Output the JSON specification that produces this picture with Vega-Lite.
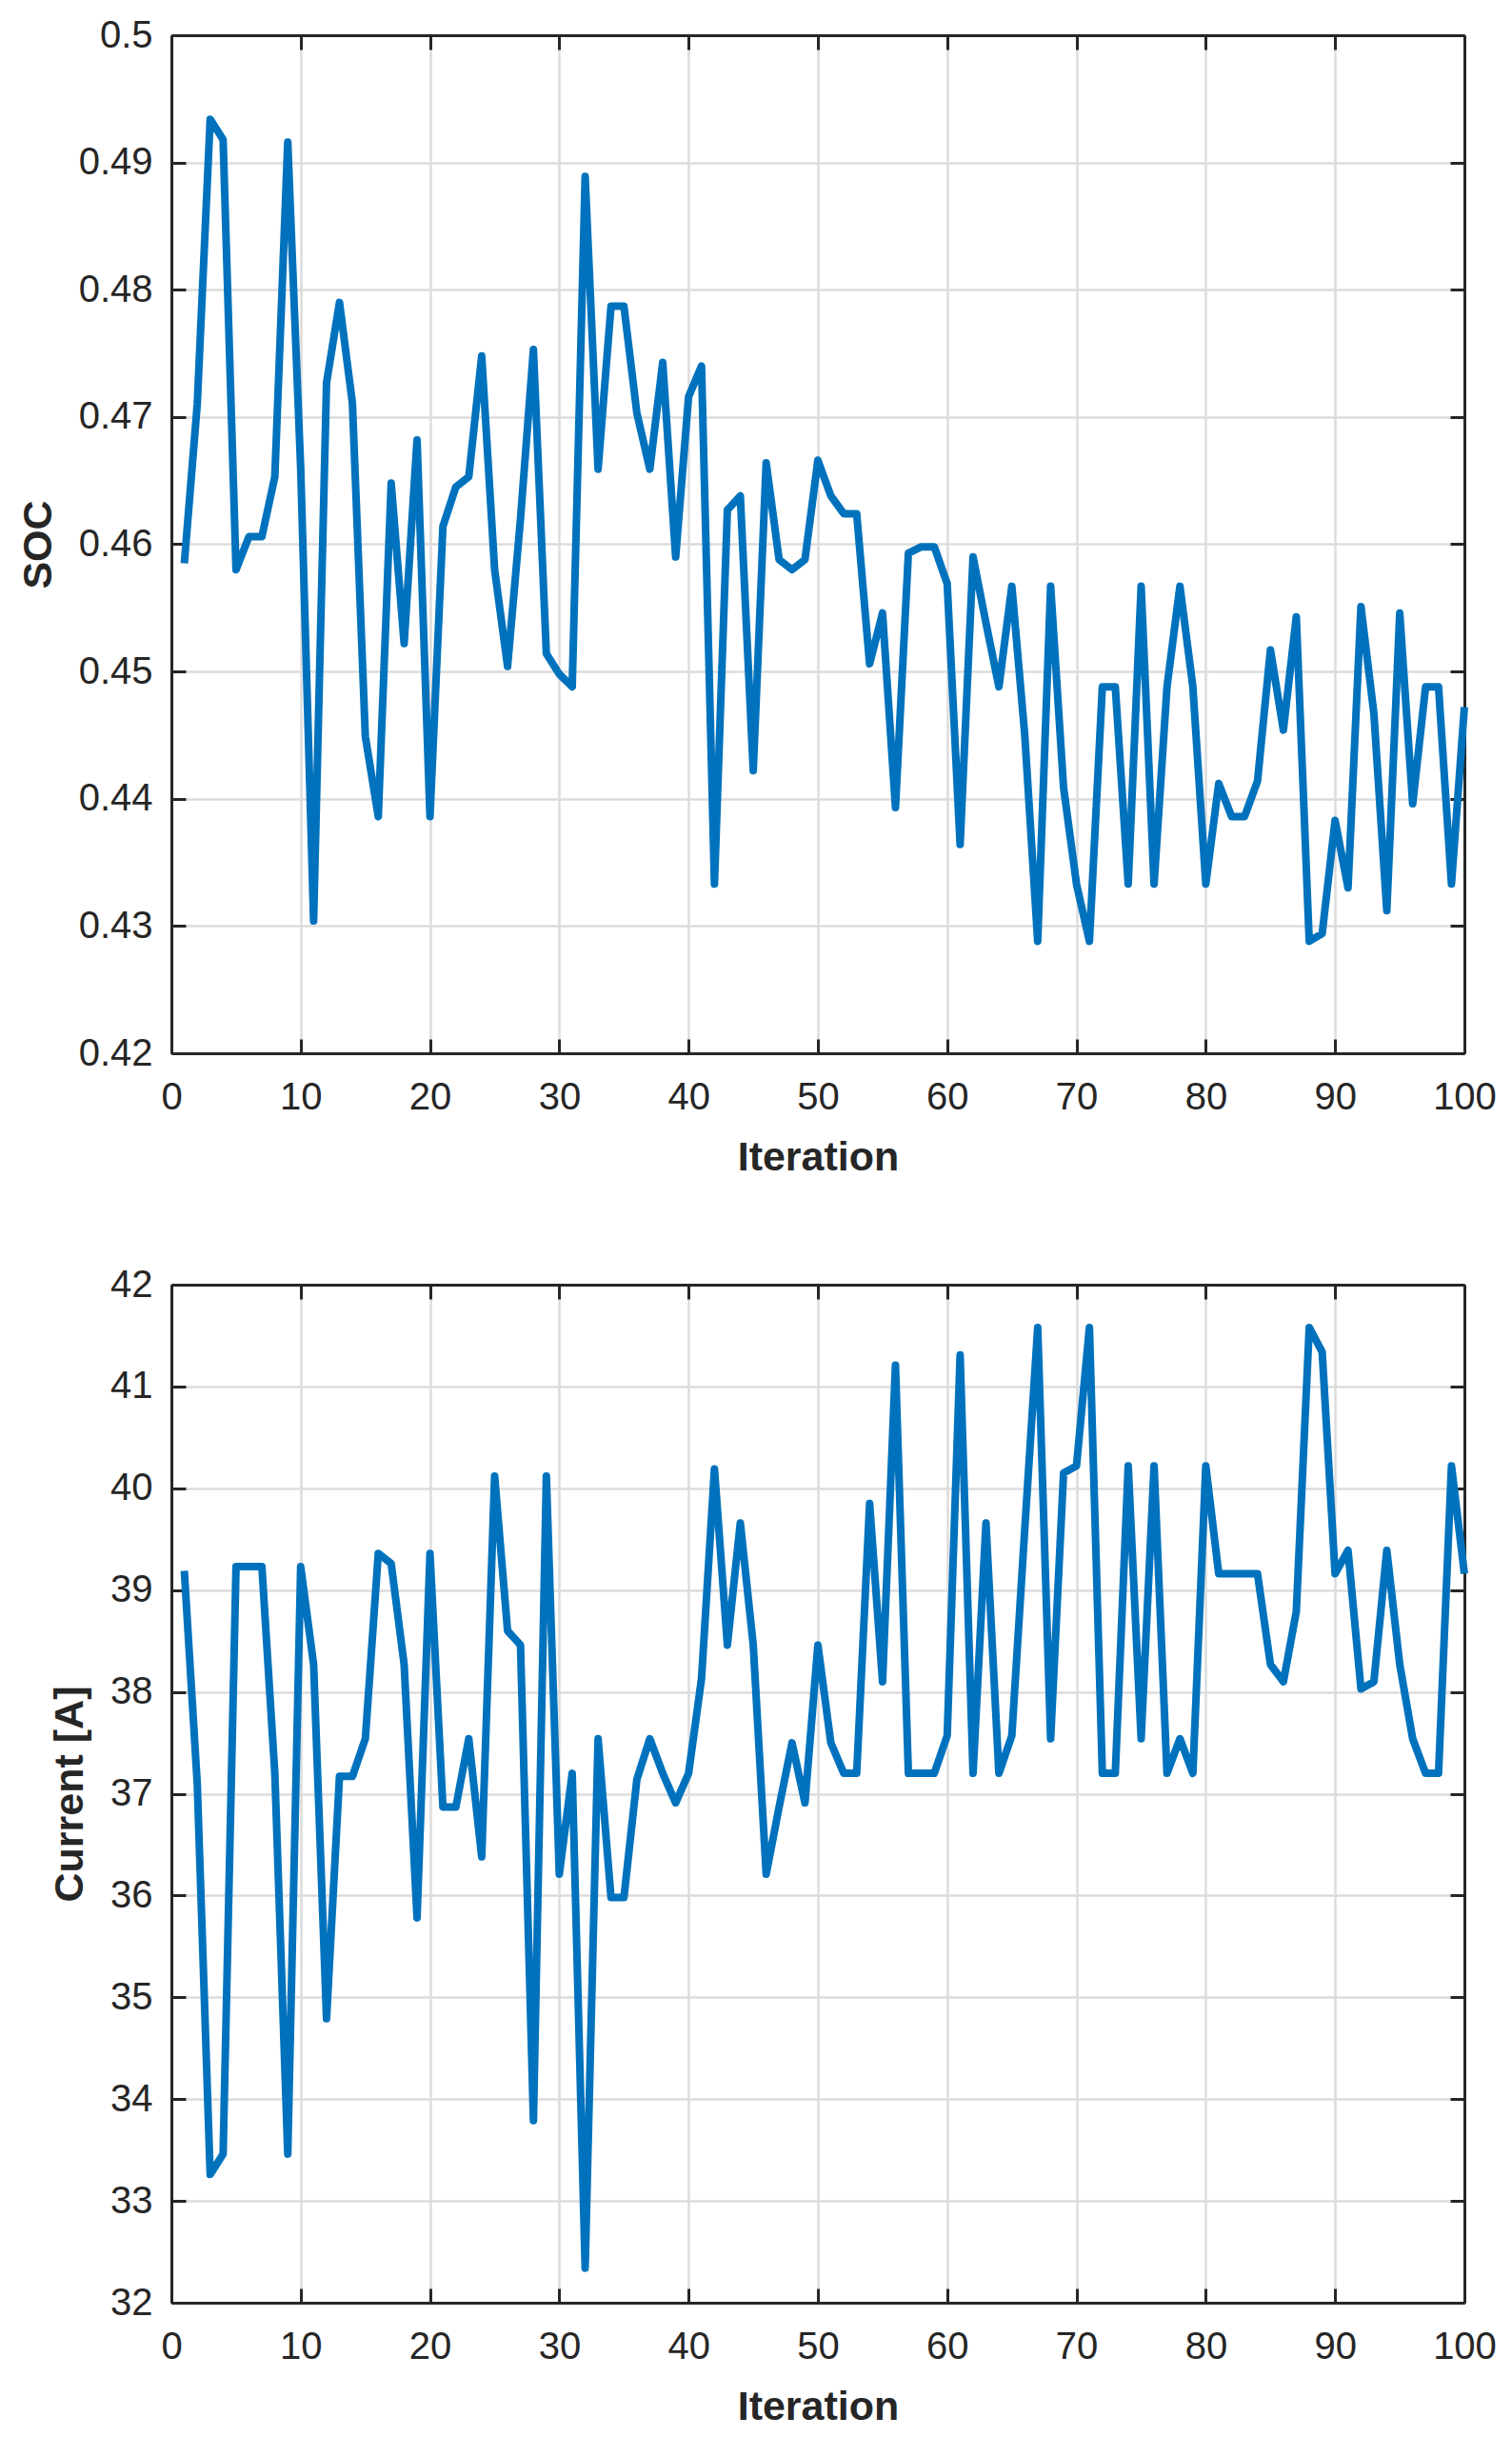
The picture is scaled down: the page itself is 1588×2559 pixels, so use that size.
{
  "$schema": "https://vega.github.io/schema/vega-lite/v6.json",
  "background": "white",
  "padding": {"left": 19, "top": 17, "right": 40, "bottom": 10},
  "spacing": 92,
  "config": {
    "view": {"stroke": null},
    "font": "Liberation Sans",
    "axis": {
      "labelFont": "Liberation Sans",
      "labelFontSize": 40,
      "labelColor": "#262626",
      "labelFlush": false,
      "titleFont": "Liberation Sans",
      "titleFontSize": 43,
      "titleFontWeight": "bold",
      "titleColor": "#262626",
      "domainColor": "#262626",
      "domainWidth": 3,
      "tickColor": "#262626",
      "tickWidth": 3,
      "tickSize": -15,
      "gridColor": "#dcdcdc",
      "gridWidth": 2.5
    },
    "axisX": {"labelPadding": 41, "titlePadding": 22},
    "axisY": {"labelPadding": 35, "titlePadding": 20}
  },
  "datasets": {
    "soc": [
      {"iter": 1, "soc": 0.4585}, {"iter": 2, "soc": 0.471}, {"iter": 3, "soc": 0.4934}, {"iter": 4, "soc": 0.4918},
      {"iter": 5, "soc": 0.458}, {"iter": 6, "soc": 0.4606}, {"iter": 7, "soc": 0.4606}, {"iter": 8, "soc": 0.4653},
      {"iter": 9, "soc": 0.4916}, {"iter": 10, "soc": 0.466}, {"iter": 11, "soc": 0.4304}, {"iter": 12, "soc": 0.4727},
      {"iter": 13, "soc": 0.479}, {"iter": 14, "soc": 0.4711}, {"iter": 15, "soc": 0.4449}, {"iter": 16, "soc": 0.4386},
      {"iter": 17, "soc": 0.4648}, {"iter": 18, "soc": 0.4522}, {"iter": 19, "soc": 0.4682}, {"iter": 20, "soc": 0.4386},
      {"iter": 21, "soc": 0.4614}, {"iter": 22, "soc": 0.4645}, {"iter": 23, "soc": 0.4653}, {"iter": 24, "soc": 0.4748},
      {"iter": 25, "soc": 0.458}, {"iter": 26, "soc": 0.4504}, {"iter": 27, "soc": 0.462}, {"iter": 28, "soc": 0.4753},
      {"iter": 29, "soc": 0.4514}, {"iter": 30, "soc": 0.4498}, {"iter": 31, "soc": 0.4488}, {"iter": 32, "soc": 0.4889},
      {"iter": 33, "soc": 0.4659}, {"iter": 34, "soc": 0.4787}, {"iter": 35, "soc": 0.4787}, {"iter": 36, "soc": 0.4703},
      {"iter": 37, "soc": 0.4659}, {"iter": 38, "soc": 0.4743}, {"iter": 39, "soc": 0.459}, {"iter": 40, "soc": 0.4716},
      {"iter": 41, "soc": 0.474}, {"iter": 42, "soc": 0.4333}, {"iter": 43, "soc": 0.4627}, {"iter": 44, "soc": 0.4638},
      {"iter": 45, "soc": 0.4422}, {"iter": 46, "soc": 0.4664}, {"iter": 47, "soc": 0.4588}, {"iter": 48, "soc": 0.458},
      {"iter": 49, "soc": 0.4588}, {"iter": 50, "soc": 0.4666}, {"iter": 51, "soc": 0.4638}, {"iter": 52, "soc": 0.4624},
      {"iter": 53, "soc": 0.4624}, {"iter": 54, "soc": 0.4506}, {"iter": 55, "soc": 0.4546}, {"iter": 56, "soc": 0.4393},
      {"iter": 57, "soc": 0.4593}, {"iter": 58, "soc": 0.4598}, {"iter": 59, "soc": 0.4598}, {"iter": 60, "soc": 0.4569},
      {"iter": 61, "soc": 0.4364}, {"iter": 62, "soc": 0.459}, {"iter": 63, "soc": 0.4538}, {"iter": 64, "soc": 0.4488},
      {"iter": 65, "soc": 0.4567}, {"iter": 66, "soc": 0.445}, {"iter": 67, "soc": 0.4288}, {"iter": 68, "soc": 0.4567},
      {"iter": 69, "soc": 0.4409}, {"iter": 70, "soc": 0.4333}, {"iter": 71, "soc": 0.4288}, {"iter": 72, "soc": 0.4488},
      {"iter": 73, "soc": 0.4488}, {"iter": 74, "soc": 0.4333}, {"iter": 75, "soc": 0.4567}, {"iter": 76, "soc": 0.4333},
      {"iter": 77, "soc": 0.4488}, {"iter": 78, "soc": 0.4567}, {"iter": 79, "soc": 0.4488}, {"iter": 80, "soc": 0.4333},
      {"iter": 81, "soc": 0.4412}, {"iter": 82, "soc": 0.4386}, {"iter": 83, "soc": 0.4386}, {"iter": 84, "soc": 0.4414},
      {"iter": 85, "soc": 0.4517}, {"iter": 86, "soc": 0.4454}, {"iter": 87, "soc": 0.4543}, {"iter": 88, "soc": 0.4288},
      {"iter": 89, "soc": 0.4294}, {"iter": 90, "soc": 0.4383}, {"iter": 91, "soc": 0.433}, {"iter": 92, "soc": 0.4551},
      {"iter": 93, "soc": 0.4467}, {"iter": 94, "soc": 0.4312}, {"iter": 95, "soc": 0.4546}, {"iter": 96, "soc": 0.4396},
      {"iter": 97, "soc": 0.4488}, {"iter": 98, "soc": 0.4488}, {"iter": 99, "soc": 0.4333}, {"iter": 100, "soc": 0.4472}
    ],
    "current": [
      {"iter": 1, "current": 39.19}, {"iter": 2, "current": 37.1}, {"iter": 3, "current": 33.26}, {"iter": 4, "current": 33.46},
      {"iter": 5, "current": 39.23}, {"iter": 6, "current": 39.23}, {"iter": 7, "current": 39.23}, {"iter": 8, "current": 37.2},
      {"iter": 9, "current": 33.46}, {"iter": 10, "current": 39.23}, {"iter": 11, "current": 38.27}, {"iter": 12, "current": 34.79},
      {"iter": 13, "current": 37.17}, {"iter": 14, "current": 37.17}, {"iter": 15, "current": 37.54}, {"iter": 16, "current": 39.36},
      {"iter": 17, "current": 39.26}, {"iter": 18, "current": 38.27}, {"iter": 19, "current": 35.78}, {"iter": 20, "current": 39.36},
      {"iter": 21, "current": 36.87}, {"iter": 22, "current": 36.87}, {"iter": 23, "current": 37.54}, {"iter": 24, "current": 36.38},
      {"iter": 25, "current": 40.12}, {"iter": 26, "current": 38.6}, {"iter": 27, "current": 38.46}, {"iter": 28, "current": 33.79},
      {"iter": 29, "current": 40.12}, {"iter": 30, "current": 36.21}, {"iter": 31, "current": 37.2}, {"iter": 32, "current": 32.34},
      {"iter": 33, "current": 37.54}, {"iter": 34, "current": 35.98}, {"iter": 35, "current": 35.98}, {"iter": 36, "current": 37.14},
      {"iter": 37, "current": 37.54}, {"iter": 38, "current": 37.2}, {"iter": 39, "current": 36.91}, {"iter": 40, "current": 37.2},
      {"iter": 41, "current": 38.13}, {"iter": 42, "current": 40.19}, {"iter": 43, "current": 38.46}, {"iter": 44, "current": 39.66},
      {"iter": 45, "current": 38.46}, {"iter": 46, "current": 36.21}, {"iter": 47, "current": 36.87}, {"iter": 48, "current": 37.5},
      {"iter": 49, "current": 36.91}, {"iter": 50, "current": 38.46}, {"iter": 51, "current": 37.5}, {"iter": 52, "current": 37.2},
      {"iter": 53, "current": 37.2}, {"iter": 54, "current": 39.85}, {"iter": 55, "current": 38.1}, {"iter": 56, "current": 41.21},
      {"iter": 57, "current": 37.2}, {"iter": 58, "current": 37.2}, {"iter": 59, "current": 37.2}, {"iter": 60, "current": 37.57},
      {"iter": 61, "current": 41.31}, {"iter": 62, "current": 37.2}, {"iter": 63, "current": 39.66}, {"iter": 64, "current": 37.2},
      {"iter": 65, "current": 37.57}, {"iter": 66, "current": 39.6}, {"iter": 67, "current": 41.58}, {"iter": 68, "current": 37.54},
      {"iter": 69, "current": 40.15}, {"iter": 70, "current": 40.22}, {"iter": 71, "current": 41.58}, {"iter": 72, "current": 37.2},
      {"iter": 73, "current": 37.2}, {"iter": 74, "current": 40.22}, {"iter": 75, "current": 37.54}, {"iter": 76, "current": 40.22},
      {"iter": 77, "current": 37.2}, {"iter": 78, "current": 37.54}, {"iter": 79, "current": 37.2}, {"iter": 80, "current": 40.22},
      {"iter": 81, "current": 39.16}, {"iter": 82, "current": 39.16}, {"iter": 83, "current": 39.16}, {"iter": 84, "current": 39.16},
      {"iter": 85, "current": 38.27}, {"iter": 86, "current": 38.1}, {"iter": 87, "current": 38.79}, {"iter": 88, "current": 41.58},
      {"iter": 89, "current": 41.34}, {"iter": 90, "current": 39.16}, {"iter": 91, "current": 39.39}, {"iter": 92, "current": 38.03},
      {"iter": 93, "current": 38.1}, {"iter": 94, "current": 39.39}, {"iter": 95, "current": 38.27}, {"iter": 96, "current": 37.54},
      {"iter": 97, "current": 37.2}, {"iter": 98, "current": 37.2}, {"iter": 99, "current": 40.22}, {"iter": 100, "current": 39.16}
    ]
  },
  "vconcat": [
    {
      "width": 1358,
      "height": 1069,
      "data": {"name": "soc"},
      "layer": [
        {
          "mark": {"type": "line", "color": "#0072BD", "strokeWidth": 8, "strokeJoin": "round"},
          "encoding": {
            "x": {
              "field": "iter", "type": "quantitative",
              "scale": {"domain": [0, 100], "nice": false},
              "axis": {"orient": "bottom", "values": [0, 10, 20, 30, 40, 50, 60, 70, 80, 90, 100], "format": "d", "title": "Iteration", "grid": true}
            },
            "y": {
              "field": "soc", "type": "quantitative",
              "scale": {"domain": [0.42, 0.5], "nice": false, "zero": false},
              "axis": {"orient": "left", "values": [0.42, 0.43, 0.44, 0.45, 0.46, 0.47, 0.48, 0.49, 0.5], "format": ".2~f", "title": "SOC", "grid": true}
            }
          }
        },
        {
          "mark": {"type": "line", "opacity": 0},
          "encoding": {
            "x": {
              "field": "iter", "type": "quantitative",
              "axis": {"orient": "top", "values": [0, 10, 20, 30, 40, 50, 60, 70, 80, 90, 100], "labels": false, "title": null, "grid": false}
            },
            "y": {
              "field": "soc", "type": "quantitative",
              "axis": {"orient": "right", "values": [0.42, 0.43, 0.44, 0.45, 0.46, 0.47, 0.48, 0.49, 0.5], "labels": false, "title": null, "grid": false}
            }
          }
        }
      ],
      "resolve": {"axis": {"x": "independent", "y": "independent"}}
    },
    {
      "width": 1358,
      "height": 1069,
      "data": {"name": "current"},
      "layer": [
        {
          "mark": {"type": "line", "color": "#0072BD", "strokeWidth": 8, "strokeJoin": "round"},
          "encoding": {
            "x": {
              "field": "iter", "type": "quantitative",
              "scale": {"domain": [0, 100], "nice": false},
              "axis": {"orient": "bottom", "values": [0, 10, 20, 30, 40, 50, 60, 70, 80, 90, 100], "format": "d", "title": "Iteration", "grid": true}
            },
            "y": {
              "field": "current", "type": "quantitative",
              "scale": {"domain": [32, 42], "nice": false, "zero": false},
              "axis": {"orient": "left", "values": [32, 33, 34, 35, 36, 37, 38, 39, 40, 41, 42], "format": "d", "title": "Current [A]", "grid": true}
            }
          }
        },
        {
          "mark": {"type": "line", "opacity": 0},
          "encoding": {
            "x": {
              "field": "iter", "type": "quantitative",
              "axis": {"orient": "top", "values": [0, 10, 20, 30, 40, 50, 60, 70, 80, 90, 100], "labels": false, "title": null, "grid": false}
            },
            "y": {
              "field": "current", "type": "quantitative",
              "axis": {"orient": "right", "values": [32, 33, 34, 35, 36, 37, 38, 39, 40, 41, 42], "labels": false, "title": null, "grid": false}
            }
          }
        }
      ],
      "resolve": {"axis": {"x": "independent", "y": "independent"}}
    }
  ]
}
